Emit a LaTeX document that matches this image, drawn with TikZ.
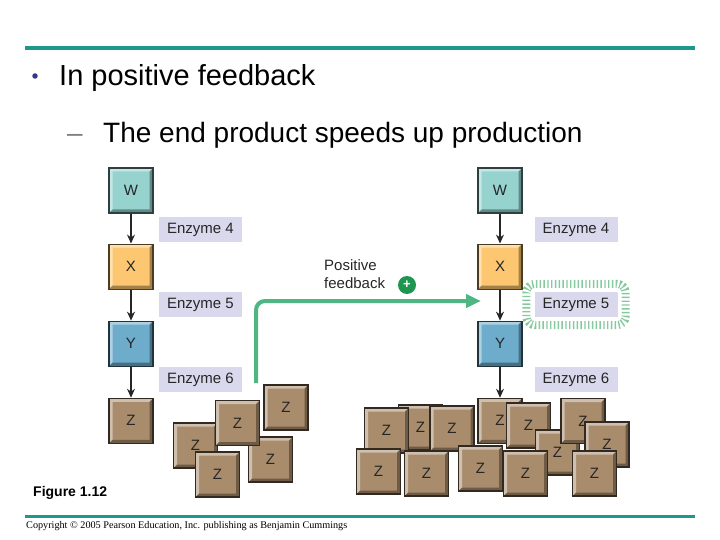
\documentclass[tikz,border=0pt]{standalone}
\usepackage{fontspec}
\setmainfont{Liberation Sans}
\newfontfamily\copyfont{Liberation Serif}
\usetikzlibrary{arrows.meta,positioning,calc}
\definecolor{pfteal}{HTML}{1F978F}
\definecolor{pfbullet}{HTML}{35358F}
\definecolor{pfw}{HTML}{96D3CF}
\definecolor{pfx}{HTML}{FCC770}
\definecolor{pfy}{HTML}{6DACCB}
\definecolor{pfz}{HTML}{A88C6C}
\definecolor{pfenz}{HTML}{D9D8EC}
\definecolor{pfgreen}{HTML}{4FB583}
\definecolor{pfplus}{HTML}{1E9650}
\definecolor{pfhalo}{HTML}{86C99E}

\begin{document}
\begin{tikzpicture}[x=1pt, y=-1pt,
  bevel/.style={draw=#1!30!black, line width=1.1pt, fill=#1,
                minimum width=44pt, minimum height=45pt, inner sep=0pt,
                font=\fontsize{15}{15}\selectfont, text=black!85,
    path picture={
      \fill[white, opacity=.45] (path picture bounding box.north west)
        -- (path picture bounding box.north east) -- ++(-3.5pt,-3.5pt)
        -- ($(path picture bounding box.north west)+(3.5pt,-3.5pt)$)
        -- ($(path picture bounding box.south west)+(3.5pt,3.5pt)$)
        -- (path picture bounding box.south west) -- cycle;
      \fill[black, opacity=.35] (path picture bounding box.south east)
        -- (path picture bounding box.north east) -- ++(-3.5pt,-3.5pt)
        -- ($(path picture bounding box.south east)+(-3.5pt,3.5pt)$)
        -- ($(path picture bounding box.south west)+(3.5pt,3.5pt)$)
        -- (path picture bounding box.south west) -- cycle;
    }},
  enz/.style={fill=pfenz, minimum width=83pt, minimum height=25pt, inner sep=0pt,
              font=\fontsize{15}{15}\selectfont, text=black!85},
  step arrow/.style={-{Stealth[length=9pt,width=8pt]}, line width=1.2pt, black!85},
  rule/.style={pfteal, line width=#1},
]
\useasboundingbox (0,0) rectangle (720,540);

%% ---- header ----
\draw[rule=4.5pt] (25,48) -- (695,48);
\node[circle, fill=pfbullet, minimum size=5.5pt, inner sep=0pt] (bul) at (35,76) {};
\node[anchor=base west, inner sep=0pt, font=\fontsize{29}{29}\selectfont]
  (title) at (59,86) {In positive feedback};
\node[anchor=base west, inner sep=0pt, text=black!50, font=\fontsize{28}{28}\selectfont]
  (dash) at (67,143) {–};
\node[anchor=base west, inner sep=0pt, font=\fontsize{28}{28}\selectfont]
  (sub) at (103,143) {The end product speeds up production};

%% ---- left pathway ----
\node[bevel=pfw] (wl) at (131,190.5) {W};
\node[bevel=pfx, below=30pt of wl] (xl) {X};
\node[bevel=pfy, below=31pt of xl] (yl) {Y};
\node[bevel=pfz, below=31pt of yl] (zl) {Z};
\draw[step arrow] (wl) -- (xl);
\draw[step arrow] (xl) -- (yl);
\draw[step arrow] (yl) -- (zl);
\node[enz] (e4l) at (200.5,229.5) {Enzyme 4};
\node[enz] (e5l) at (200.5,304.5) {Enzyme 5};
\node[enz] (e6l) at (200.5,379.5) {Enzyme 6};

% a little Z piles up
\foreach \px/\py [count=\i] in {195.5/445.5, 270.5/459.5, 286/407.5, 237.5/423, 217.5/474.5}
  \node[bevel=pfz] (zla\i) at (\px,\py) {Z};

%% ---- right pathway ----
\node[bevel=pfw] (wr) at (500,190.5) {W};
\node[bevel=pfx, below=30pt of wr] (xr) {X};
\node[bevel=pfy, below=31pt of xr] (yr) {Y};
\node[enz] (e4r) at (576,229.5) {Enzyme 4};
\node[enz] (e5r) at (576,304.5) {Enzyme 5};
\node[enz] (e6r) at (576,379.5) {Enzyme 6};

% halo round the stimulated enzyme
\draw[pfhalo, line width=8pt, dash pattern=on 1.4pt off 2.4pt, rounded corners=9pt]
  ([shift={(-8pt,-8pt)}]e5r.south west) rectangle ([shift={(8pt,8pt)}]e5r.north east);

% lots of Z
\foreach \px/\py [count=\i] in {420.5/427.5, 386.5/430.5, 452/428.5}
  \node[bevel=pfz] (zra\i) at (\px,\py) {Z};
\node[bevel=pfz, below=31pt of yr] (zr) {Z};
\draw[step arrow] (wr) -- (xr);
\draw[step arrow] (xr) -- (yr);
\draw[step arrow] (yr) -- (zr);
\foreach \px/\py [count=\i] in {528.5/425.5, 557.5/452.5, 583/421, 607/444.5,
                                378.5/471.5, 426.5/473.5, 480.5/468.5, 525.5/473.5, 594.5/473.5}
  \node[bevel=pfz] (zrb\i) at (\px,\py) {Z};

%% ---- positive feedback ----
\coordinate (fbstart) at (256,383);
\coordinate (fbend) at (481,301);
\draw[pfgreen, line width=4pt, rounded corners=9pt, -{Triangle[length=15pt,width=13pt]}]
  (fbstart) |- (fbend);
\node[anchor=base west, inner sep=0pt, align=left, font=\fontsize{15}{18}\selectfont, text=black!85]
  (fblbl) at (324,288) {Positive\\feedback};
\node[circle, fill=pfplus, minimum size=18pt, inner sep=0pt, text=white,
      font=\bfseries\fontsize{13}{13}\selectfont] (plus) at (407,285) {+};

%% ---- footer ----
\node[anchor=base west, inner sep=0pt, font=\bfseries\fontsize{14}{14}\selectfont]
  (fig) at (33,496) {Figure 1.12};
\draw[rule=3pt] (25,516) -- (695,516);
\node[anchor=base west, inner sep=0pt, font=\copyfont\fontsize{10.2}{10.2}\selectfont]
  (copy) at (26,528) {Copyright © 2005 Pearson Education, Inc. publishing as Benjamin Cummings};
\end{tikzpicture}
\end{document}
